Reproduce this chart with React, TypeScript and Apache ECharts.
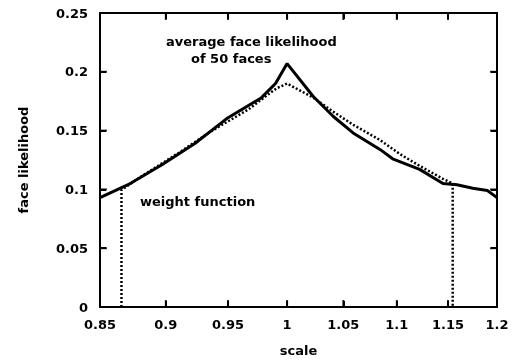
import React, { useEffect, useRef } from "react";
import * as echarts from "echarts";

const xTicks = [0.85, 0.9, 0.95, 1, 1.05, 1.1, 1.15, 1.2];
const yTicks = [0, 0.05, 0.1, 0.15, 0.2, 0.25];

const likelihoodScale = [0.85, 0.871, 0.897, 0.923, 0.95, 0.978, 0.99, 1.0, 1.023, 1.041, 1.059, 1.084, 1.096, 1.122, 1.145, 1.159, 1.175, 1.19, 1.2];
const likelihoodValue = [0.093, 0.104, 0.121, 0.139, 0.161, 0.178, 0.19, 0.207, 0.179, 0.162, 0.148, 0.134, 0.126, 0.117, 0.105, 0.104, 0.101, 0.099, 0.093];

const weightScale = [0.866, 0.866, 0.881, 0.91, 0.937, 0.967, 0.984, 0.991, 1.0, 1.023, 1.041, 1.059, 1.084, 1.103, 1.122, 1.145, 1.1547, 1.1547];
const weightValue = [0, 0.0995, 0.111, 0.131, 0.15, 0.168, 0.181, 0.186, 0.19, 0.178, 0.166, 0.155, 0.142, 0.13, 0.12, 0.109, 0.105, 0];

const FONT = "DejaVu Sans";

export default function App() {
  const ref = useRef<HTMLDivElement>(null);
  useEffect(() => {
    if (!ref.current) return;
    const chart = echarts.init(ref.current, null, { renderer: "svg" });
    const lnTicks = xTicks.map((t) => Math.log(t));
    const fmtX = (v: number) => String(Number(Math.exp(v).toFixed(2)));
    const txt = { fontFamily: FONT, fontSize: 13, fontWeight: "bold" as const, color: "#000" };
    const xMin = Math.log(xTicks[0]);
    const xMax = Math.log(xTicks[xTicks.length - 1]);
    const yMin = yTicks[0];
    const yMax = yTicks[yTicks.length - 1];
    const tick = { show: true, inside: true, length: 6, lineStyle: { color: "#000", width: 2 } };
    const frame = { show: true, onZero: false, lineStyle: { color: "#000", width: 2 } };
    const tickMarks = (data: number[][], size: number[], offset: number[]) => ({
      type: "scatter",
      xAxisIndex: 0,
      yAxisIndex: 0,
      silent: true,
      clip: false,
      symbol: "rect",
      symbolSize: size,
      symbolOffset: offset,
      itemStyle: { color: "#000" },
      data,
      z: 5,
    });
    chart.setOption({
      animation: false,
      grid: { left: 100, right: 24, top: 13, bottom: 57, containLabel: false },
      xAxis: [
        {
          type: "value",
          min: xMin,
          max: xMax,
          position: "bottom",
          splitLine: { show: false },
          axisLine: frame,
          axisTick: { ...tick, customValues: lnTicks },
          name: "scale",
          nameLocation: "middle",
          nameGap: 37,
          nameTextStyle: txt,
          axisLabel: { show: true, customValues: lnTicks, formatter: fmtX, margin: 11, ...txt },
        },
        {
          type: "value",
          min: xMin,
          max: xMax,
          position: "top",
          splitLine: { show: false },
          axisLine: frame,
          axisTick: { ...tick, customValues: lnTicks },
          axisLabel: { show: false },
        },
      ],
      yAxis: [
        {
          type: "value",
          min: yMin,
          max: yMax,
          interval: 0.05,
          position: "left",
          splitLine: { show: false },
          axisLine: frame,
          axisTick: tick,
          name: "face likelihood",
          nameLocation: "middle",
          nameGap: 70,
          nameTextStyle: txt,
          axisLabel: {
            show: true,
            margin: 12,
            ...txt,
            formatter: (v: number) => {
              const t = yTicks.find((y) => Math.abs(y - v) < 1e-9);
              return t === undefined ? "" : String(t);
            },
          },
        },
        {
          type: "value",
          min: yMin,
          max: yMax,
          interval: 0.05,
          position: "right",
          splitLine: { show: false },
          axisLine: frame,
          axisTick: tick,
          axisLabel: { show: false },
        },
      ],
      series: [
        {
          type: "line",
          name: "average face likelihood",
          xAxisIndex: 0,
          yAxisIndex: 0,
          data: likelihoodScale.map((s, i) => [Math.log(s), likelihoodValue[i]]),
          showSymbol: false,
          lineStyle: { color: "#000", width: 3 },
          z: 3,
        },
        {
          type: "line",
          name: "weight function",
          xAxisIndex: 0,
          yAxisIndex: 0,
          data: weightScale.map((s, i) => [Math.log(s), weightValue[i]]),
          showSymbol: false,
          lineStyle: { color: "#000", width: 2.5, type: [2, 2] },
          z: 2,
        },
        tickMarks(lnTicks.map((v) => [v, yMin]), [2, 7], [0, -3.5]),
        tickMarks(lnTicks.map((v) => [v, yMax]), [2, 7], [0, 3.5]),
        tickMarks(yTicks.map((v) => [xMin, v]), [7, 2], [3.5, 0]),
        tickMarks(yTicks.map((v) => [xMax, v]), [7, 2], [-3.5, 0]),
      ],
      graphic: [
        { type: "text", left: 166, top: 35, style: { text: "average face likelihood", fontFamily: FONT, fontSize: 13, fontWeight: "bold", fill: "#000" } },
        { type: "text", left: 191, top: 52, style: { text: "of 50 faces", fontFamily: FONT, fontSize: 13, fontWeight: "bold", fill: "#000" } },
        { type: "text", left: 140, top: 195, style: { text: "weight function", fontFamily: FONT, fontSize: 13, fontWeight: "bold", fill: "#000" } },
      ],
    });
    return () => chart.dispose();
  }, []);
  return <div ref={ref} style={{ position: "fixed", left: 0, top: 0, width: 521, height: 364 }} />;
}
